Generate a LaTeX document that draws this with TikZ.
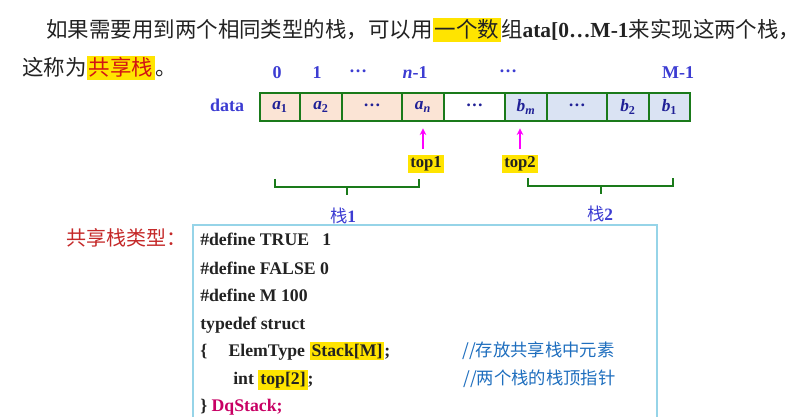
\documentclass[tikz,border=0pt]{standalone}
\usepackage{fontspec}
\setmainfont{Liberation Serif}
\newfontfamily\cjk{Noto Sans CJK SC}
\usetikzlibrary{arrows.meta}
\definecolor{cellgreen}{RGB}{26,122,26}
\definecolor{afill}{RGB}{251,228,213}
\definecolor{bfill}{RGB}{218,227,243}
\definecolor{labblue}{RGB}{60,60,210}
\definecolor{cellblue}{RGB}{32,32,150}
\definecolor{ptrpink}{RGB}{255,0,255}
\definecolor{hlyellow}{RGB}{255,228,0}
\definecolor{hired}{RGB}{210,20,20}
\definecolor{typered}{RGB}{196,40,40}
\definecolor{dqred}{RGB}{200,0,100}
\definecolor{cmtblue}{RGB}{30,110,190}
\definecolor{boxblue}{RGB}{150,212,232}
\definecolor{ink}{RGB}{34,34,34}
\newcommand{\hilite}[1]{{\setlength{\fboxsep}{1.5pt}\colorbox{hlyellow}{#1}}}
\newcommand{\elem}[2]{\textit{#1}\textsubscript{#2}}
\newcommand{\cdotsb}{\raisebox{0.35ex}{\textbf{…}}}
\tikzstyle{para}=[anchor=base west,inner sep=0pt,text=ink,font=\cjk\fontsize{16.1}{20}\selectfont]
\tikzstyle{idx}=[inner sep=0pt,text=labblue,font=\fontsize{13.5}{15}\selectfont\bfseries]
\tikzstyle{cell}=[draw=cellgreen,line width=1.1pt,minimum height=21pt,inner sep=0pt,text=cellblue,font=\fontsize{13}{15}\selectfont\bfseries]
\tikzstyle{ptrlab}=[fill=hlyellow,inner sep=1.5pt,text=ink,font=\fontsize{12.5}{14}\selectfont\bfseries]
\tikzstyle{ptr}=[-{Stealth[length=5pt,width=5pt]},draw=ptrpink,line width=1pt]
\tikzstyle{brace}=[draw=cellgreen,line width=1.2pt]
\tikzstyle{stk}=[inner sep=0pt,text=labblue,font=\cjk\fontsize{13}{15}\selectfont]
\tikzstyle{typelab}=[anchor=west,inner sep=0pt,text=typered,font=\cjk\fontsize{15}{18}\selectfont]
\tikzstyle{codebox}=[draw=boxblue,line width=1pt]
\tikzstyle{code}=[anchor=base west,inner sep=0pt,text=ink,font=\fontsize{13.3}{15}\selectfont\bfseries]
\tikzstyle{cmt}=[anchor=base west,inner sep=0pt,text=cmtblue,font=\cjk\fontsize{13}{15}\selectfont]

\begin{document}
\begin{tikzpicture}[x=0.75pt,y=-0.75pt]
\useasboundingbox (0,0) rectangle (807,417);
\node[para] at (46,38) (line1) {如果需要用到两个相同类型的栈，可以用\hilite{一个数}组{\rmfamily\bfseries ata[0…M-1}来实现这两个栈，};
\node[para] at (22,76) (line2) {这称为\hilite{\textcolor{hired}{共享栈}}。};
\node[idx] at (277,73) (i0) {0};
\node[idx] at (317,73) (i1) {1};
\node[idx] at (358,73) (i2) {\cdotsb};
\node[idx] at (415,73) (in) {\textit{n}-1};
\node[idx] at (508,73) (i3) {\cdotsb};
\node[idx] at (678,73) (im) {M-1};
\node[idx] at (227,105) (data) {data};
\node[cell,fill=afill,minimum width=30pt] at (280,107) (a1) {\elem{a}{1}};
\node[cell,fill=afill,minimum width=31.5pt] at (321,107) (a2) {\elem{a}{2}};
\node[cell,fill=afill,minimum width=45pt] at (372,107) (ad) {\cdotsb};
\node[cell,fill=afill,minimum width=31.5pt] at (423,107) (an) {\elem{a}{\textit{n}}};
\node[cell,fill=white,minimum width=45.75pt] at (474.5,107) (mid) {\cdotsb};
\node[cell,fill=bfill,minimum width=31.5pt] at (526,107) (bm) {\elem{b}{\textit{m}}};
\node[cell,fill=bfill,minimum width=45pt] at (577,107) (bd) {\cdotsb};
\node[cell,fill=bfill,minimum width=31.5pt] at (628,107) (b2) {\elem{b}{2}};
\node[cell,fill=bfill,minimum width=30.75pt] at (669.5,107) (b1) {\elem{b}{1}};
\node[ptrlab] at (426,164) (top1) {top1};
\node[ptrlab] at (520,164) (top2) {top2};
\draw[ptr,shorten <=4pt,shorten >=5pt] (an.south |- top1.north) -- (an.south);
\draw[ptr,shorten <=4pt,shorten >=5pt] (top2.north) -- (top2.north |- bm.south);
\draw[brace] (275,179) |- (419,187) -- (419,179);
\draw[brace] (347,187) -- (347,195);
\draw[brace] (528,178) |- (673,186) -- (673,178);
\draw[brace] (601,186) -- (601,194);
\node[stk] at (343,216) (s1) {栈{\rmfamily\bfseries 1}};
\node[stk] at (600,214) (s2) {栈{\rmfamily\bfseries 2}};
\node[typelab] at (66,238) (tlab) {共享栈类型：};
\draw[codebox] (193,420) |- (657,225) -- (657,420);
\node[code] at (200,246) (c1) {\#define TRUE\hspace{10pt}1};
\node[code] at (200,274) (c2) {\#define FALSE 0};
\node[code] at (200,301) (c3) {\#define M 100};
\node[code] at (200,329) (c4) {typedef struct};
\node[code] at (200,356) (c5) {\{\hspace{16pt}ElemType \hilite{Stack[M]};};
\node[code] at (233,384) (c6) {int \hilite{top[2]};};
\node[code] at (200,411) (c7) {\} \textcolor{dqred}{DqStack;}};
\node[cmt] at (462,356) (m1) {//存放共享栈中元素};
\node[cmt] at (463,384) (m2) {//两个栈的栈顶指针};
\end{tikzpicture}
\end{document}
